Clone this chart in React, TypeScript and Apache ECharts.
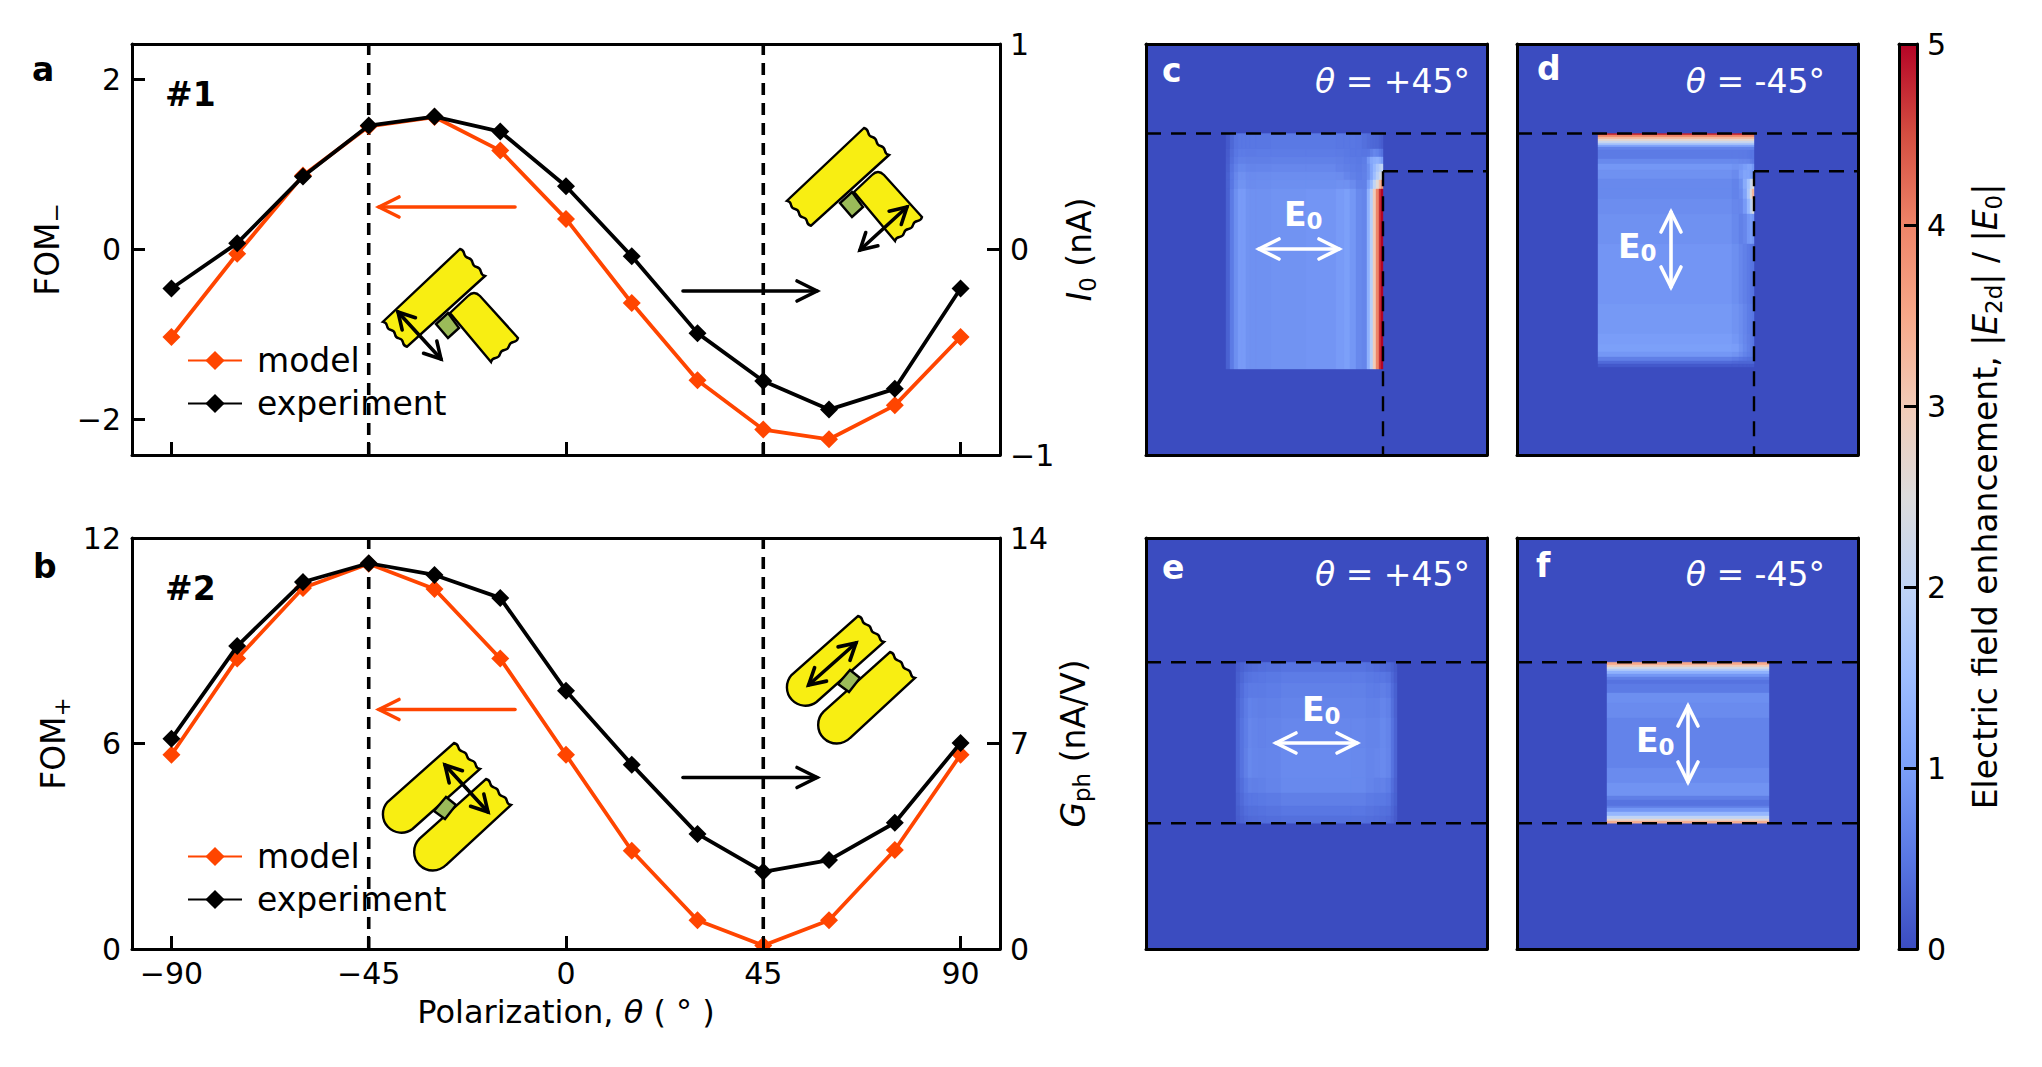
import React, { useEffect, useRef } from "react";
import * as echarts from "echarts";

// ---------- line panels ----------
const thetaDeg = [-90, -75, -60, -45, -30, -15, 0, 15, 30, 45, 60, 75, 90];
const xTickValues = [-90, -45, 0, 45, 90];
const fomMinusModel = [-1.03, -0.05, 0.87, 1.45, 1.56, 1.165, 0.36, -0.63, -1.54, -2.12, -2.235, -1.835, -1.03];
const photocurrentExp = [-0.19, 0.031, 0.355, 0.603, 0.647, 0.574, 0.308, -0.033, -0.407, -0.64, -0.779, -0.678, -0.19];
const fomPlusModel = [5.67, 8.48, 10.54, 11.25, 10.51, 8.48, 5.67, 2.87, 0.84, 0.1, 0.84, 2.89, 5.67];
const gphExp = [7.16, 10.32, 12.5, 13.14, 12.74, 11.96, 8.8, 6.28, 3.92, 2.63, 3.03, 4.3, 7.02];
const fomMinusTicks = [-2, 0, 2];
const fomPlusTicks = [0, 6, 12];
const markerAngles = [-45, 45];

// ---------- field maps: cell edges and values, rows listed from top to bottom ----------
const cEdgesX = [80, 84, 88, 92, 96, 100, 104, 110, 125, 160, 190, 198, 204, 210, 216, 221, 224, 227, 230, 233, 235, 237];
const cEdgesY = [89.5, 105, 113, 120, 128, 136, 145, 325];
const cValues = [
  [.15, .32, .45, .5, .5, .5, .5, .5, .52, .52, .5, .5, .5, .48, .42, .36, .34, .32, .3, .25, .2],
  [.18, .36, .5, .56, .56, .54, .54, .56, .56, .56, .55, .52, .5, .5, .48, .5, .6, .7, .65, .55, .45],
  [.2, .4, .55, .62, .62, .6, .6, .6, .62, .62, .6, .56, .55, .52, .58, .9, 1.15, 1.25, 1.3, 1.2, 1.0],
  [.22, .45, .62, .72, .72, .68, .66, .68, .7, .7, .64, .6, .58, .55, .6, .8, 1.1, 1.4, 1.7, 1.9, 2.0],
  [.25, .5, .7, .82, .82, .76, .75, .76, .78, .78, .76, .68, .62, .58, .62, .8, 1.1, 1.5, 1.9, 2.2, 2.5],
  [.25, .5, .72, .85, .85, .78, .76, .78, .8, .8, .82, .82, .75, .62, .62, 1.0, 1.4, 2.0, 2.6, 3.2, 3.8],
  [.25, .55, .8, .95, .95, .85, .82, .82, .85, .88, .95, 1.02, .9, .72, .68, 1.3, 1.9, 3, 4, 4.7, 5],
];

const dEdgesX = [81, 215, 222, 226, 230, 233, 235, 237];
const dEdgesY = [89.5, 91, 93, 95, 97, 99, 101, 103, 106, 115, 120, 126, 135, 145, 155, 170, 200, 260, 290, 300, 308, 313, 317, 320, 323];
const dValues = [
  [4.8, 4.8, 4.8, 4.8, 4.8, 4.8, 4.8],
  [4.0, 4.0, 4.0, 4.0, 4.0, 4.0, 4.0],
  [3.3, 3.3, 3.3, 3.3, 3.3, 3.3, 3.3],
  [2.7, 2.7, 2.7, 2.7, 2.7, 2.7, 2.7],
  [2.2, 2.2, 2.2, 2.2, 2.2, 2.2, 2.2],
  [1.7, 1.7, 1.7, 1.7, 1.7, 1.7, 1.7],
  [1.1, 1.1, 1.1, 1.1, 1.1, 1.1, 1.1],
  [.65, .65, .65, .65, .65, .65, .65],
  [.55, .55, .55, .55, .52, .5, .5],
  [.72, .72, .7, .7, .68, .6, .55],
  [.9, .85, .9, 1.0, 1.1, 1.1, .9],
  [.82, .75, .95, 1.1, 1.1, 1.0, .9],
  [.72, .65, .8, 1.2, 1.6, 2.1, 2.5],
  [.72, .65, .75, 1.1, 1.7, 2.5, 3.3],
  [.78, .7, .7, .95, 1.4, 1.9, 2.4],
  [.82, .72, .62, .7, .9, 1.0, .9],
  [.88, .8, .7, .62, .55, .5, .45],
  [.92, .85, .78, .68, .58, .55, .5],
  [.98, .9, .8, .7, .6, .55, .5],
  [1.02, .98, .85, .72, .62, .55, .5],
  [.9, .85, .75, .65, .58, .52, .48],
  [.6, .55, .5, .45, .42, .42, .42],
  [.35, .33, .3, .3, .3, .3, .3],
  [.15, .15, .15, .15, .15, .15, .15],
];

const eEdgesX = [90, 94, 98, 102, 106, 112, 120, 135, 205, 220, 228, 234, 240, 245, 248, 251];
const eEdgesY = [124.3, 134, 145, 160, 180, 210, 240, 255, 268, 278, 285.3];
const eValues = [
  [.18, .25, .3, .34, .36, .4, .42, .45, .45, .42, .38, .34, .3, .24, .16],
  [.22, .32, .42, .45, .48, .5, .52, .56, .56, .52, .5, .5, .45, .32, .2],
  [.25, .38, .5, .55, .55, .55, .58, .62, .62, .58, .56, .6, .55, .38, .24],
  [.28, .42, .55, .65, .62, .6, .62, .66, .66, .62, .62, .68, .62, .42, .26],
  [.3, .45, .58, .7, .66, .64, .66, .7, .7, .66, .66, .72, .66, .45, .28],
  [.3, .45, .6, .72, .68, .66, .68, .74, .72, .68, .7, .74, .68, .45, .28],
  [.28, .4, .52, .62, .6, .62, .66, .72, .72, .66, .62, .64, .58, .4, .26],
  [.25, .35, .45, .5, .5, .52, .55, .6, .6, .55, .52, .52, .48, .34, .24],
  [.22, .3, .38, .42, .42, .44, .46, .5, .5, .46, .44, .42, .4, .3, .2],
  [.2, .27, .32, .35, .36, .38, .4, .42, .42, .4, .38, .36, .33, .27, .18],
];

const fEdgesX = [90, 252];
const fEdgesY = [124.3, 127, 129, 131, 133, 136, 139, 142, 146, 155, 165, 180, 230, 245, 258, 262, 268, 270, 274, 278, 281, 283, 285.3];
const fValues = [[3.5], [3.0], [2.3], [1.8], [1.3], [.9], [.6], [.45], [.55], [.8], [.75], [.65], [.75], [.85], [.6], [.45], [.6], [.9], [1.4], [2.0], [2.7], [3.4]];

const coolwarmStops = ["#3b4cc0", "#5977e3", "#7b9ff9", "#9dbdff", "#c0d4f5", "#dddcdc", "#f2cbb7", "#f7a889", "#ee8468", "#d44e41", "#b40426"];
const colorbarTicks = [0, 1, 2, 3, 4, 5];

// ---------- constants for drawing ----------
const FONT = "DejaVu Sans";
const FS = 30;
const TS = 33;
const ORANGE = "#ff4500";
const LW = 3;
const FW = 341;
const FH = 411;

const wavy = (ax: number, ay: number, bx: number, by: number, n = 6, amp = 2) => {
  let d = "";
  const nx = -(by - ay), ny = bx - ax;
  const len = Math.hypot(nx, ny);
  for (let i = 0; i < n; i++) {
    const m = (i + 0.5) / n, e = (i + 1) / n, s = i % 2 ? 1 : -1;
    d += `Q${ax + (bx - ax) * m + (nx / len) * amp * s},${ay + (by - ay) * m + (ny / len) * amp * s} ${ax + (bx - ax) * e},${ay + (by - ay) * e} `;
  }
  return d;
};

echarts.graphic.registerShape("tBar", echarts.graphic.extendPath(`M460,249 ${wavy(460, 249, 485, 276)}L407,346.7 ${wavy(407, 346.7, 383, 321.7)}Z`, {}));
echarts.graphic.registerShape("tStub", echarts.graphic.extendPath(`M468,296 Q474,290 480,296 L518,338 ${wavy(518, 338, 491, 362)}L450,313 Z`, {}));
echarts.graphic.registerShape("pillA", echarts.graphic.extendPath(`M454,741 ${wavy(454, 741, 480, 767)}L412.5,827 A18.5,18.5 0 0 1 387.5,800 Z`, {}));
echarts.graphic.registerShape("pillB", echarts.graphic.extendPath(`M486,777 ${wavy(486, 777, 511, 803)}L446,863 A18.5,18.5 0 0 1 419.6,836.7 Z`, {}));

const YELLOW = "#f8ee12";
const GREEN = "#9bbb59";

function arrow(x1: number, y1: number, x2: number, y2: number, color: string, lw: number, both: boolean, head = 20, half = 10) {
  const L = Math.hypot(x2 - x1, y2 - y1);
  const ux = (x2 - x1) / L, uy = (y2 - y1) / L;
  const h = (px: number, py: number, dx: number, dy: number) => ({
    type: "polyline", z: 60, silent: true,
    shape: { points: [[px - dx * head - dy * half, py - dy * head + dx * half], [px, py], [px - dx * head + dy * half, py - dy * head - dx * half]] },
    style: { stroke: color, lineWidth: lw, fill: null, lineCap: "round", lineJoin: "miter" },
  });
  const els: any[] = [
    { type: "line", z: 60, silent: true, shape: { x1, y1, x2, y2 }, style: { stroke: color, lineWidth: lw, lineCap: "round" } },
    h(x2, y2, ux, uy),
  ];
  if (both) els.push(h(x1, y1, -ux, -uy));
  return els;
}

const txt = (x: number, y: number, text: string, extra: any = {}, styleExtra: any = {}) => ({
  type: "text", z: 70, silent: true, x, y, ...extra,
  style: { text, fontFamily: FONT, fontSize: TS, fill: "#000", align: "left", verticalAlign: "middle", ...styleExtra },
});

const whiteRich = {
  i: { fontFamily: FONT, fontStyle: "italic", fontSize: TS, fill: "#fff", lineHeight: 36 },
  n: { fontFamily: FONT, fontSize: TS, fill: "#fff", lineHeight: 36 },
  b: { fontFamily: FONT, fontWeight: "bold", fontSize: TS, fill: "#fff", lineHeight: 36, verticalAlign: "middle" },
  s: { fontFamily: FONT, fontWeight: "bold", fontSize: 23, fill: "#fff", lineHeight: 24, verticalAlign: "bottom" },
};

const axisNameRich = {
  n: { fontFamily: FONT, fontSize: TS, lineHeight: 40, fill: "#000" },
  i: { fontFamily: FONT, fontSize: TS, fontStyle: "italic", lineHeight: 40, fill: "#000" },
  s: { fontFamily: FONT, fontSize: 23, lineHeight: 26, verticalAlign: "bottom", fill: "#000" },
};
const xNameRich = {
  n: { fontFamily: FONT, fontSize: 32, fill: "#000" },
  i: { fontFamily: FONT, fontSize: 32, fontStyle: "italic", fill: "#000" },
};

function cells(edgesX: number[], edgesY: number[], values: number[][]) {
  const out: number[][] = [[0, FW, 0, FH, 0]];
  values.forEach((row, r) => row.forEach((v, c) => {
    out.push([edgesX[c], edgesX[c + 1], edgesY[r], edgesY[r + 1], v]);
  }));
  return out;
}

export default function App() {
  const ref = useRef<HTMLDivElement>(null);
  useEffect(() => {
    document.body.style.margin = "0";
    const chart = echarts.init(ref.current!, undefined, { renderer: "svg" });

    const grids: any[] = [
      { left: 132, top: 44, width: 868, height: 411 },
      { left: 132, top: 538, width: 868, height: 411 },
      { left: 1146, top: 44, width: FW, height: FH },
      { left: 1517, top: 44, width: FW, height: FH },
      { left: 1146, top: 538, width: FW, height: FH },
      { left: 1517, top: 538, width: FW, height: FH },
      { left: 1899, top: 44, width: 18, height: 905 },
    ];
    const line = { show: true, onZero: false, lineStyle: { color: "#000", width: LW } };
    const labelStyle = { color: "#000", fontFamily: FONT, fontSize: FS };
    const tick = { show: true, inside: true, length: 13, lineStyle: { color: "#000", width: LW } };
    const xAxes: any[] = [];
    const yAxes: any[] = [];
    const minus = (v: number) => (v < 0 ? "\u2212" + -v : "" + v);

    const addLineAxes = (g: number, bottomLabels: boolean, yMin: number, yMax: number, yTicks: number[], rMin: number, rMax: number, rTicks: number[], leftName: string, rightName: string, leftGap: number, rightGap: number) => {
      xAxes.push({
        gridIndex: g, type: "value", position: "bottom", min: -99, max: 99, z: 10, axisLine: line, splitLine: { show: false },
        axisTick: { ...tick, customValues: xTickValues },
        axisLabel: { show: bottomLabels, customValues: xTickValues, margin: 9, ...labelStyle, formatter: minus },
        ...(bottomLabels ? { name: "{n|Polarization, }{i|\u03b8}{n| ( \u00b0 )}", nameLocation: "middle", nameGap: 47, nameTextStyle: { ...labelStyle, rich: xNameRich } } : {}),
      });
      xAxes.push({ gridIndex: g, type: "value", position: "top", min: -99, max: 99, z: 10, axisLine: line, axisTick: { show: false }, axisLabel: { show: false }, splitLine: { show: false } });
      yAxes.push({
        gridIndex: g, type: "value", position: "left", min: yMin, max: yMax, z: 10, axisLine: line, splitLine: { show: false },
        axisTick: { ...tick, customValues: yTicks },
        axisLabel: { customValues: yTicks, margin: 11, ...labelStyle, formatter: minus },
        name: leftName, nameLocation: "middle", nameRotate: 90, nameGap: leftGap, nameTextStyle: { ...labelStyle, rich: axisNameRich },
      });
      yAxes.push({
        gridIndex: g, type: "value", position: "right", min: rMin, max: rMax, z: 10, axisLine: line, splitLine: { show: false },
        axisTick: { ...tick, customValues: rTicks },
        axisLabel: { customValues: rTicks, margin: 10, ...labelStyle, formatter: minus },
        name: rightName, nameLocation: "middle", nameRotate: 90, nameGap: rightGap, nameTextStyle: { ...labelStyle, rich: axisNameRich },
      });
    };
    addLineAxes(0, false, -2.42, 2.42, fomMinusTicks, -1, 1, [-1, 0, 1], "{n|FOM}{s|\u2212}", "{i|I}{s|0}{n| (nA)}", 65, 59);
    addLineAxes(1, true, 0, 12, fomPlusTicks, 0, 14, [0, 7, 14], "{n|FOM}{s|+}", "{i|G}{s|ph}{n| (nA/V)}", 59, 53);
    [2, 3, 4, 5].forEach((g) => {
      const blank = { axisLine: line, axisTick: { show: false }, axisLabel: { show: false }, splitLine: { show: false }, z: 10 };
      xAxes.push({ gridIndex: g, type: "value", position: "bottom", min: 0, max: FW, ...blank });
      xAxes.push({ gridIndex: g, type: "value", position: "top", min: 0, max: FW, ...blank });
      yAxes.push({ gridIndex: g, type: "value", position: "left", min: 0, max: FH, inverse: true, ...blank });
      yAxes.push({ gridIndex: g, type: "value", position: "right", min: 0, max: FH, inverse: true, ...blank });
    });
    xAxes.push({ gridIndex: 6, type: "value", position: "bottom", min: 0, max: 1, z: 10, axisLine: line, axisTick: { show: false }, axisLabel: { show: false }, splitLine: { show: false } });
    xAxes.push({ gridIndex: 6, type: "value", position: "top", min: 0, max: 1, z: 10, axisLine: line, axisTick: { show: false }, axisLabel: { show: false }, splitLine: { show: false } });
    yAxes.push({ gridIndex: 6, type: "value", position: "left", min: 0, max: 5, z: 10, axisLine: line, axisTick: { show: false }, axisLabel: { show: false }, splitLine: { show: false } });
    yAxes.push({
      gridIndex: 6, type: "value", position: "right", min: 0, max: 5, z: 10, axisLine: line, splitLine: { show: false },
      axisTick: { ...tick, customValues: colorbarTicks },
      axisLabel: { customValues: colorbarTicks, margin: 10, ...labelStyle },
      name: "{n|Electric field enhancement, |}{i|E}{s|2d}{n|| / |}{i|E}{s|0}{n||}",
      nameLocation: "middle", nameRotate: 90, nameGap: 48, nameTextStyle: { ...labelStyle, rich: axisNameRich },
    });

    const series: any[] = [];
    const dashedV = (angle: number, g: number, yIdx: number, yMin: number, yMax: number) => ({
      type: "line", xAxisIndex: g * 2, yAxisIndex: yIdx, data: [[angle, yMin], [angle, yMax]], symbol: "none", silent: true, z: 1,
      lineStyle: { color: "#000", width: 3.6, type: [12, 8] },
    });
    const curve = (name: string, color: string, xi: number, yi: number, vals: number[], z: number) => ({
      name, type: "line", xAxisIndex: xi, yAxisIndex: yi, data: thetaDeg.map((t, i) => [t, vals[i]]),
      symbol: "diamond", symbolSize: 18, showSymbol: true, clip: false, z, silent: true,
      lineStyle: { color, width: 3.8 }, itemStyle: { color },
    });
    markerAngles.forEach((a) => {
      series.push(dashedV(a, 0, 0, -2.42, 2.42));
      series.push(dashedV(a, 1, 2, 0, 12));
    });
    series.push(curve("model", ORANGE, 0, 0, fomMinusModel, 3));
    series.push(curve("experiment", "#000", 0, 1, photocurrentExp, 4));
    series.push(curve("model", ORANGE, 2, 2, fomPlusModel, 3));
    series.push(curve("experiment", "#000", 2, 3, gphExp, 4));

    const heatIdx: number[] = [];
    const renderCell = (_: any, api: any) => {
      const a = api.coord([api.value(0), api.value(2)]);
      const b = api.coord([api.value(1), api.value(3)]);
      const color = api.visual("color");
      return {
        type: "rect",
        shape: { x: Math.min(a[0], b[0]), y: Math.min(a[1], b[1]), width: Math.abs(b[0] - a[0]), height: Math.abs(b[1] - a[1]) },
        style: { fill: color, stroke: color, lineWidth: 0.4 },
      };
    };
    const maps: [number, number[], number[], number[][]][] = [
      [2, cEdgesX, cEdgesY, cValues],
      [3, dEdgesX, dEdgesY, dValues],
      [4, eEdgesX, eEdgesY, eValues],
      [5, fEdgesX, fEdgesY, fValues],
    ];
    maps.forEach(([g, ex, ey, vals]) => {
      heatIdx.push(series.length);
      series.push({
        type: "custom", xAxisIndex: g * 2, yAxisIndex: g * 2, renderItem: renderCell, silent: true, clip: true, z: 2,
        encode: { x: [0, 1], y: [2, 3] }, data: cells(ex, ey, vals),
      });
    });
    const hDash = (g: number, y: number, x0: number, x1: number) => ({
      type: "line", xAxisIndex: g * 2, yAxisIndex: g * 2, symbol: "none", silent: true, z: 5, data: [[x0, y], [x1, y]],
      lineStyle: { color: "#000", width: 2.4, type: [15, 10] },
    });
    const vDash = (g: number, x: number, y0: number, y1: number) => ({
      type: "line", xAxisIndex: g * 2, yAxisIndex: g * 2, symbol: "none", silent: true, z: 5, data: [[x, y0], [x, y1]],
      lineStyle: { color: "#000", width: 2.4, type: [15, 10] },
    });
    [2, 3].forEach((g) => {
      series.push(hDash(g, 89.5, 0, FW), hDash(g, 127.3, 237, FW), vDash(g, 237, 127.3, FH));
    });
    [4, 5].forEach((g) => {
      series.push(hDash(g, 124.3, 0, FW), hDash(g, 285.3, 0, FW));
    });
    series.push({
      type: "custom", xAxisIndex: 12, yAxisIndex: 12, silent: true, z: 2, clip: true, data: [[0, 0, 1, 5]],
      encode: { x: [0, 2], y: [1, 3] },
      renderItem: (_: any, api: any) => {
        const a = api.coord([api.value(0), api.value(3)]);
        const b = api.coord([api.value(2), api.value(1)]);
        return {
          type: "rect", shape: { x: a[0], y: a[1], width: b[0] - a[0], height: b[1] - a[1] },
          style: {
            fill: new echarts.graphic.LinearGradient(0, 1, 0, 0, coolwarmStops.map((c, i) => ({ offset: i / (coolwarmStops.length - 1), color: c }))),
          },
        };
      },
    });

    const SW = 2.4;
    const bar = (dx: number, dy: number) => [
      { type: "tBar", x: dx, y: dy, z: 40, silent: true, style: { fill: YELLOW, stroke: "#000", lineWidth: SW } },
      { type: "tStub", x: dx, y: dy, z: 40, silent: true, style: { fill: YELLOW, stroke: "#000", lineWidth: SW } },
      { type: "polygon", x: dx, y: dy, z: 41, silent: true, shape: { points: [[448, 313], [459, 328], [448, 338], [436, 324]] }, style: { fill: GREEN, stroke: "#000", lineWidth: SW } },
    ];
    const pill = (dx: number, dy: number) => [
      { type: "pillA", x: dx, y: dy, z: 40, silent: true, style: { fill: YELLOW, stroke: "#000", lineWidth: SW } },
      { type: "pillB", x: dx, y: dy, z: 40, silent: true, style: { fill: YELLOW, stroke: "#000", lineWidth: SW } },
      { type: "polygon", x: dx, y: dy, z: 41, silent: true, shape: { points: [[434, 809], [446, 795], [456, 803], [445, 817]] }, style: { fill: GREEN, stroke: "#000", lineWidth: SW } },
    ];
    const E0 = "{b|E}{s|0}";
    const theta = (s: string) => `{i|\u03b8}{n| = ${s}\u00b0}`;

    const elements: any[] = [
      { type: "rect", z: 5, silent: true, shape: { x: 750, y: 950.5, width: 26, height: 9 }, style: { fill: "#fff" } },
      ...bar(0, 0), ...bar(404, -121), ...pill(0, 2), ...pill(404, -125),
      ...arrow(398, 312, 441, 359, "#000", 3.6, true, 16, 9),
      ...arrow(907, 207, 860, 250, "#000", 3.6, true, 16, 9),
      ...arrow(445, 765, 488, 812, "#000", 3.6, true, 16, 9),
      ...arrow(856, 643, 808.6, 685, "#000", 3.6, true, 16, 9),
      ...arrow(515, 207, 379, 207, ORANGE, 3.6, false),
      ...arrow(683, 291, 817, 291, "#000", 3.6, false),
      ...arrow(515, 709.5, 379, 709.5, ORANGE, 3.6, false),
      ...arrow(683, 777.5, 817, 777.5, "#000", 3.6, false),
      ...arrow(1259, 249, 1339, 249, "#fff", 3.6, true),
      ...arrow(1671, 212, 1671, 287, "#fff", 3.6, true),
      ...arrow(1276, 743, 1357, 743, "#fff", 3.6, true),
      ...arrow(1688, 706, 1688, 782, "#fff", 3.6, true),
      txt(32, 69, "a", {}, { fontWeight: "bold" }),
      txt(33, 566, "b", {}, { fontWeight: "bold" }),
      txt(165, 94, "#1", {}, { fontWeight: "bold" }),
      txt(165, 588, "#2", {}, { fontWeight: "bold" }),
      txt(1162, 70, "c", {}, { fontWeight: "bold", fill: "#fff" }),
      txt(1537, 68, "d", {}, { fontWeight: "bold", fill: "#fff" }),
      txt(1162, 567, "e", {}, { fontWeight: "bold", fill: "#fff" }),
      txt(1536, 565, "f", {}, { fontWeight: "bold", fill: "#fff" }),
      txt(1470, 81, theta("+45"), {}, { align: "right", rich: whiteRich }),
      txt(1825, 81, theta("-45"), {}, { align: "right", rich: whiteRich }),
      txt(1470, 574, theta("+45"), {}, { align: "right", rich: whiteRich }),
      txt(1825, 574, theta("-45"), {}, { align: "right", rich: whiteRich }),
      txt(1284, 214, E0, {}, { rich: whiteRich }),
      txt(1618, 246, E0, {}, { rich: whiteRich }),
      txt(1302, 709, E0, {}, { rich: whiteRich }),
      txt(1636, 740, E0, {}, { rich: whiteRich }),
    ];

    const legend = (top: number) => ({
      data: ["model", "experiment"], orient: "vertical", left: 182, top, itemWidth: 54, itemHeight: 24, itemGap: 10, selectedMode: false, z: 8,
      textStyle: { fontFamily: FONT, fontSize: TS, color: "#000", padding: [0, 0, 0, 10] },
    });

    chart.setOption({
      animation: false,
      backgroundColor: "#fff",
      grid: grids,
      xAxis: xAxes,
      yAxis: yAxes,
      legend: [legend(339), legend(835)],
      visualMap: { show: false, type: "continuous", min: 0, max: 5, dimension: 4, seriesIndex: heatIdx, inRange: { color: coolwarmStops } },
      series,
      graphic: { elements },
    });
    return () => chart.dispose();
  }, []);
  return <div ref={ref} style={{ position: "absolute", left: 0, top: 0, width: 2042, height: 1067 }} />;
}
